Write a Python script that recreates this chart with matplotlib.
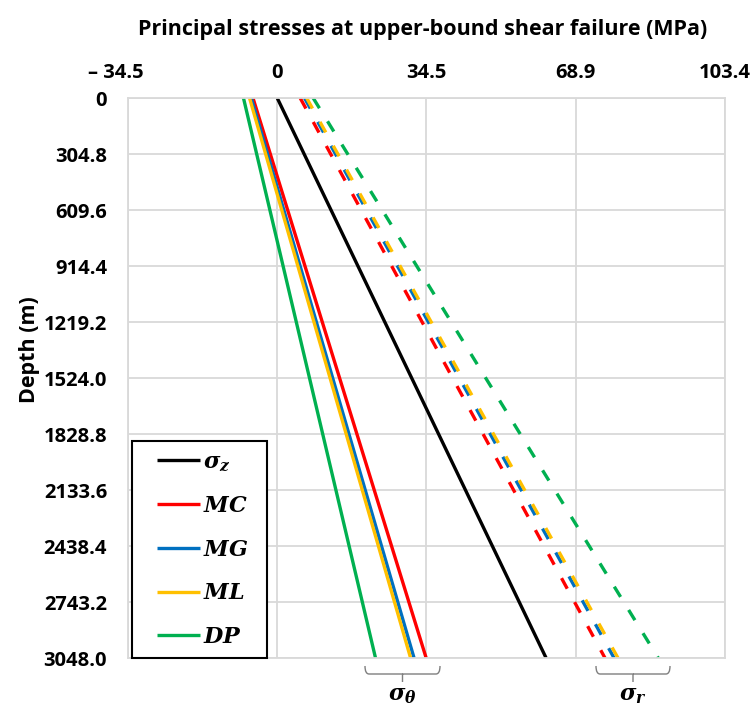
import matplotlib
matplotlib.use("Agg")
import matplotlib.pyplot as plt
from matplotlib.path import Path
from matplotlib.patches import PathPatch, Rectangle
from matplotlib.transforms import ScaledTranslation

# ---- data (MPa vs depth m) ----
depth = [0.0, 3048.0]
sigma_z = [0.0, 62.1]
theta_MC = [-5.6, 34.4]
theta_MG = [-6.0, 31.6]
theta_ML = [-6.4, 30.8]
theta_DP = [-7.8, 22.7]
r_MC = [5.3, 75.7]
r_MG = [6.3, 77.8]
r_ML = [6.8, 78.7]
r_DP = [8.3, 88.0]

xticks = [-34.47, 0.0, 34.47, 68.95, 103.42]
xticklabels = ["\u2013 34.5", "0", "34.5", "68.9", "103.4"]
yticks = [0.0, 304.8, 609.6, 914.4, 1219.2, 1524.0, 1828.8, 2133.6, 2438.4, 2743.2, 3048.0]
yticklabels = ["0", "304.8", "609.6", "914.4", "1219.2", "1524.0", "1828.8",
               "2133.6", "2438.4", "2743.2", "3048.0"]

labels = [r"$\mathbfit{\sigma_z}$", r"$\mathbfit{MC}$", r"$\mathbfit{MG}$",
          r"$\mathbfit{ML}$", r"$\mathbfit{DP}$"]
colors = ["#000000", "#ff0000", "#0070c0", "#ffc000", "#00b050"]

plt.rcParams['font.family'] = ['Open Sans', 'DejaVu Sans']
plt.rcParams['mathtext.fontset'] = 'dejavuserif'

W, H = 755, 711
fig = plt.figure(figsize=(W / 100, H / 100), dpi=100)
ax = fig.add_axes([128 / W, 1 - 658 / H, (725 - 128) / W, (658 - 98) / H])

lw = 2.4
ax.plot(sigma_z, depth, color=colors[0], lw=lw, label=labels[0], solid_capstyle='butt')
for vals, c, lab in zip([theta_MC, theta_MG, theta_ML, theta_DP], colors[1:], labels[1:]):
    ax.plot(vals, depth, color=c, lw=lw, label=lab, solid_capstyle='butt')
for vals, c in zip([r_MC, r_MG, r_ML, r_DP], colors[1:]):
    ax.plot(vals, depth, color=c, lw=lw, linestyle=(0, (3.6, 4.6)), dash_capstyle='butt')

ax.set_xlim(-34.47, 103.42)
ax.set_ylim(3048.0, 0.0)
ax.xaxis.tick_top()
ax.set_xticks(xticks)
ax.set_xticklabels(xticklabels, fontsize=14.5, fontweight='bold')
ax.set_yticks(yticks)
ax.set_yticklabels(yticklabels, fontsize=14.5, fontweight='bold')
ax.tick_params(axis='x', length=0, pad=11)
ax.tick_params(axis='y', length=0, pad=15)
xl0 = ax.get_xticklabels()[0]
xl0.set_transform(xl0.get_transform() + ScaledTranslation(-12 / 100, 0, fig.dpi_scale_trans))
ax.grid(True, color='#d9d9d9', lw=1.3)
ax.set_axisbelow(True)
for s in ax.spines.values():
    s.set_color('#d9d9d9')
    s.set_linewidth(1.3)

fig.text(423 / W, 1 - 30 / H, "Principal stresses at upper-bound shear failure (MPa)",
         ha='center', va='center', fontsize=15.5, fontweight='bold')
fig.text(30 / W, 1 - 350 / H, "Depth (m)", rotation=90, ha='center', va='center',
         fontsize=15.5, fontweight='bold')

# legend frame (drawn separately to get Excel-like padding)
ax.add_patch(Rectangle(((132 - 128) / 597, 0.0), 135 / 597, 217 / 560, transform=ax.transAxes,
                       facecolor='white', edgecolor='black', lw=1.5, zorder=4.5, clip_on=False))
leg = ax.legend(loc='lower left', bbox_to_anchor=((147 - 128) / 597, 0.0), fontsize=16,
                frameon=False, handlelength=1.94, handletextpad=0.14,
                labelspacing=1.02, borderpad=0.45, borderaxespad=0.0)


def brace(x0, x1, y0, depthpx):
    xm = (x0 + x1) / 2
    d = depthpx
    pts = [(x0, y0), (x0, y0 + d / 2), (x0 + 4, y0 + d / 2), (x0 + 8, y0 + d / 2),
           (xm - 8, y0 + d / 2), (xm - 4, y0 + d / 2), (xm, y0 + d / 2), (xm, y0 + d),
           (xm, y0 + d / 2), (xm + 4, y0 + d / 2), (xm + 8, y0 + d / 2),
           (x1 - 8, y0 + d / 2), (x1 - 4, y0 + d / 2), (x1, y0 + d / 2), (x1, y0)]
    codes = [Path.MOVETO, Path.CURVE3, Path.CURVE3, Path.LINETO,
             Path.LINETO, Path.CURVE3, Path.CURVE3, Path.LINETO,
             Path.MOVETO, Path.CURVE3, Path.CURVE3, Path.LINETO,
             Path.LINETO, Path.CURVE3, Path.CURVE3]
    pts = [(x / W, 1 - y / H) for x, y in pts]
    p = PathPatch(Path(pts, codes), transform=fig.transFigure, fill=False,
                  edgecolor='#7f7f7f', lw=1.0)
    fig.add_artist(p)


brace(365, 440, 666, 16)
brace(596, 670, 666, 16)
fig.text(402 / W, 1 - 696 / H, r"$\mathbfit{\sigma_\theta}$", ha='center', va='center', fontsize=16)
fig.text(633 / W, 1 - 696 / H, r"$\mathbfit{\sigma_r}$", ha='center', va='center', fontsize=16)

fig.savefig("out.png", dpi=100)
